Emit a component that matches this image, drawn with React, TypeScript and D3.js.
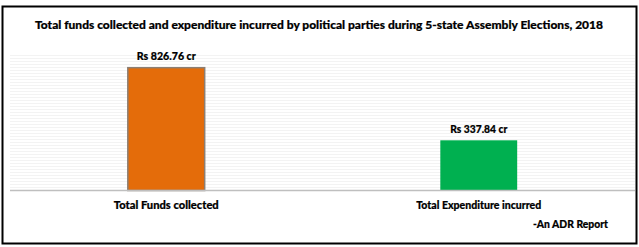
import React from "react";
import * as d3 from "d3";

const title = "Total funds collected and expenditure incurred by political parties during 5-state Assembly Elections, 2018";
const categories = ["Total Funds collected", "Total Expenditure incurred"];
const values = [826.76, 337.84];
const valueLabels = ["Rs 826.76 cr", "Rs 337.84 cr"];
const barColors = ["#E46C0A", "#00B050"];
const barStrokes = ["#8c7f74", "none"];
const sourceNote = "-An ADR Report";

const W = 639;
const H = 247;
const plotLeft = 10;
const plotRight = 635;
const plotTop = 55;
const axisY = 190.5;

export default function App() {
  const x = d3.scaleBand<string>().domain(categories).range([plotLeft, plotRight]).paddingInner(0.754).paddingOuter(0.377);
  const y = d3.scaleLinear().domain([0, 912]).range([axisY, plotTop]);
  const stripes = d3.range(plotTop, axisY - 2, 3);
  const font = "Lato, 'Open Sans', 'DejaVu Sans', sans-serif";
  const labelWidths = [59, 57];
  const catWidths = [105, 125];
  return (
    <svg width={W} height={H} style={{ position: "absolute", left: 0, top: 0, background: "#fff" }} fontFamily={font}>
      <rect x={0} y={0} width={W} height={H} fill="#fff" />
      {stripes.map((s, i) => (
        <line key={i} x1={plotLeft} x2={plotRight} y1={s + 0.5} y2={s + 0.5} stroke="#f3f3f3" strokeWidth={1} />
      ))}
      {categories.map((c, i) => {
        const bx = x(c)!;
        const by = y(values[i]);
        return (
          <g key={c}>
            <rect x={bx} y={by} width={x.bandwidth()} height={axisY - by} fill={barColors[i]} stroke={barStrokes[i]} strokeWidth={barStrokes[i] === "none" ? 0 : 1.5} />
            <text x={bx + x.bandwidth() / 2} y={by - 7.5} textAnchor="middle" fontWeight="900" fontSize={11} fill="#000" stroke="#000" strokeWidth={0.2} textLength={labelWidths[i]} lengthAdjust="spacingAndGlyphs">{valueLabels[i]}</text>
            <text x={bx + x.bandwidth() / 2} y={208.5} textAnchor="middle" fontWeight="900" fontSize={11} fill="#000" stroke="#000" strokeWidth={0.2} textLength={catWidths[i]} lengthAdjust="spacingAndGlyphs">{c}</text>
          </g>
        );
      })}
      <line x1={plotLeft} x2={plotRight} y1={axisY} y2={axisY} stroke="#bfbfbf" strokeWidth={1.5} />
      <text x={319} y={28.5} textAnchor="middle" fontWeight="900" fontSize={11.5} fill="#000" stroke="#000" strokeWidth={0.2} textLength={568} lengthAdjust="spacingAndGlyphs">{title}</text>
      <text x={570.5} y={227.5} textAnchor="middle" fontWeight="900" fontSize={11} fill="#000" stroke="#000" strokeWidth={0.2} textLength={75} lengthAdjust="spacingAndGlyphs">{sourceNote}</text>
      <rect x={2.5} y={6.5} width={634} height={237} fill="none" stroke="#000" strokeWidth={2} />
    </svg>
  );
}
